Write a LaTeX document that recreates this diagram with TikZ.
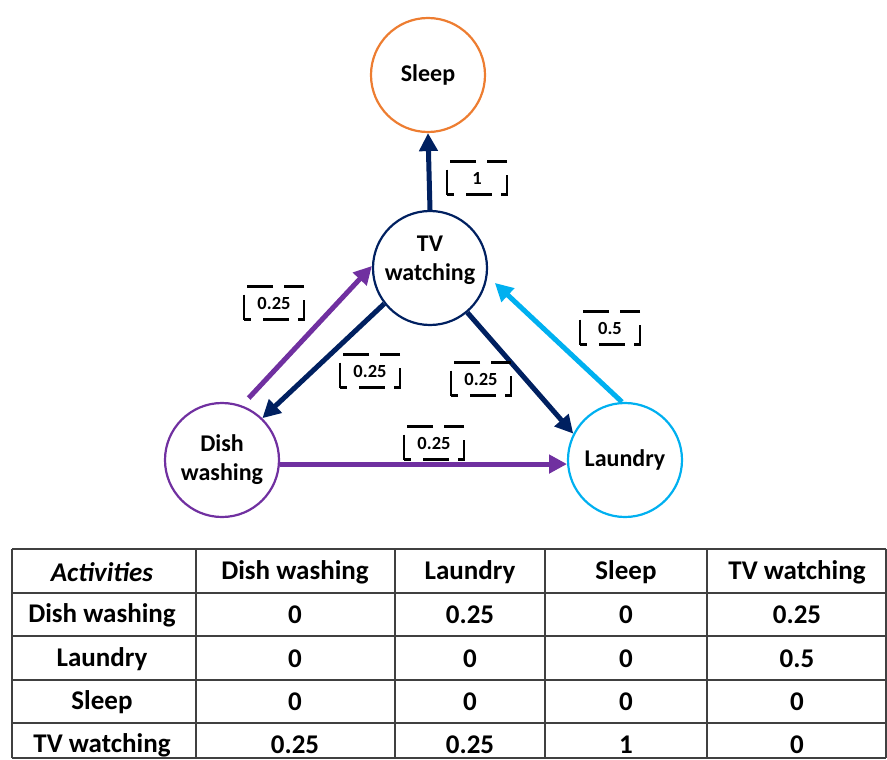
\documentclass[tikz,border=0pt]{standalone}
\usepackage{fontspec}
\setmainfont{Carlito}
\usetikzlibrary{positioning,arrows.meta}
\definecolor{tvnavy}{HTML}{002060}
\definecolor{dishpurple}{HTML}{7030A0}
\definecolor{laundryblue}{HTML}{00B0F0}
\definecolor{sleeporange}{HTML}{ED7D31}
\tikzset{
  act/.style={circle,draw,line width=2.2pt,minimum size=114pt,inner sep=0pt,align=center,
    font=\bfseries\fontsize{24}{29}\selectfont},
  flow/.style={-{Triangle[length=18pt,width=18pt]},line width=5pt},
  wgt/.style={draw,line width=2.2pt,minimum width=60pt,minimum height=33pt,inner sep=0pt,
    font=\bfseries\fontsize{18.5}{20}\selectfont,
    dash pattern=on 32pt off 12pt on 26pt off 9pt on 26pt off 13pt on 20pt off 11pt on 26pt off 11pt,
    dash phase=25pt},  % bracket-like weight box
  cell/.style={font=\bfseries\fontsize{27}{32}\selectfont},
  tgrid/.style={line width=1.3pt,black!75},
}
\begin{document}
\begin{tikzpicture}[x=1pt,y=-1pt]
  \useasboundingbox (0,0) rectangle (887,760);
  % activities
  \node[act,draw=sleeporange] (sleep) at (428,75) {Sleep};
  \node[act,draw=tvnavy] (tv) at (430,268) {TV\\watching\\[-10pt]};
  \node[act,draw=dishpurple] (dish) at (222,460) {Dish\\washing};
  \node[act,draw=laundryblue] (laundry) at (625,460) {Laundry};
  % transitions
  \draw[flow,tvnavy] (tv.north) -- (sleep.south);
  \draw[flow,dishpurple,shorten <=10pt] (dish.70) -- (tv.178);
  \draw[flow,tvnavy] (tv.218) -- (dish.46);
  \draw[flow,tvnavy] (tv.-50) -- (laundry.153);
  \draw[flow,laundryblue,shorten >=10pt] (laundry.93) -- (tv.-8);
  \draw[flow,dishpurple] (dish.-4) -- (laundry.184);
  % weights
  \node[wgt] (w1) at (477,178) {1};
  \node[wgt] (w2) at (274,303) {0.25};
  \node[wgt] (w3) at (370,371) {0.25};
  \node[wgt] (w4) at (481,379) {0.25};
  \node[wgt] (w5) at (610,328) {0.5};
  \node[wgt] (w6) at (434,443) {0.25};
  % transition table
  \foreach \y in {549,593,636,680,723,758}
    \draw[tgrid] (12,\y) -- (886,\y);
  \foreach \x in {12,196,395,545,707,886}
    \draw[tgrid] (\x,549) -- (\x,758);
  \foreach \row [count=\r] in {{\textit{Activities},Dish washing,Laundry,Sleep,TV watching},
      {Dish washing,0,0.25,0,0.25},{Laundry,0,0,0,0.5},{Sleep,0,0,0,0},
      {TV watching,0.25,0.25,1,0}}{
    \pgfmathsetmacro\cy{{572,615,659,702,745}[\r-1]}
    \foreach \txt [count=\c] in \row{
      \pgfmathsetmacro\cx{{102,295,470,626,797}[\c-1]}
      \node[cell] (c-\r-\c) at (\cx,\cy) {\txt};
    }
  }
\end{tikzpicture}
\end{document}
